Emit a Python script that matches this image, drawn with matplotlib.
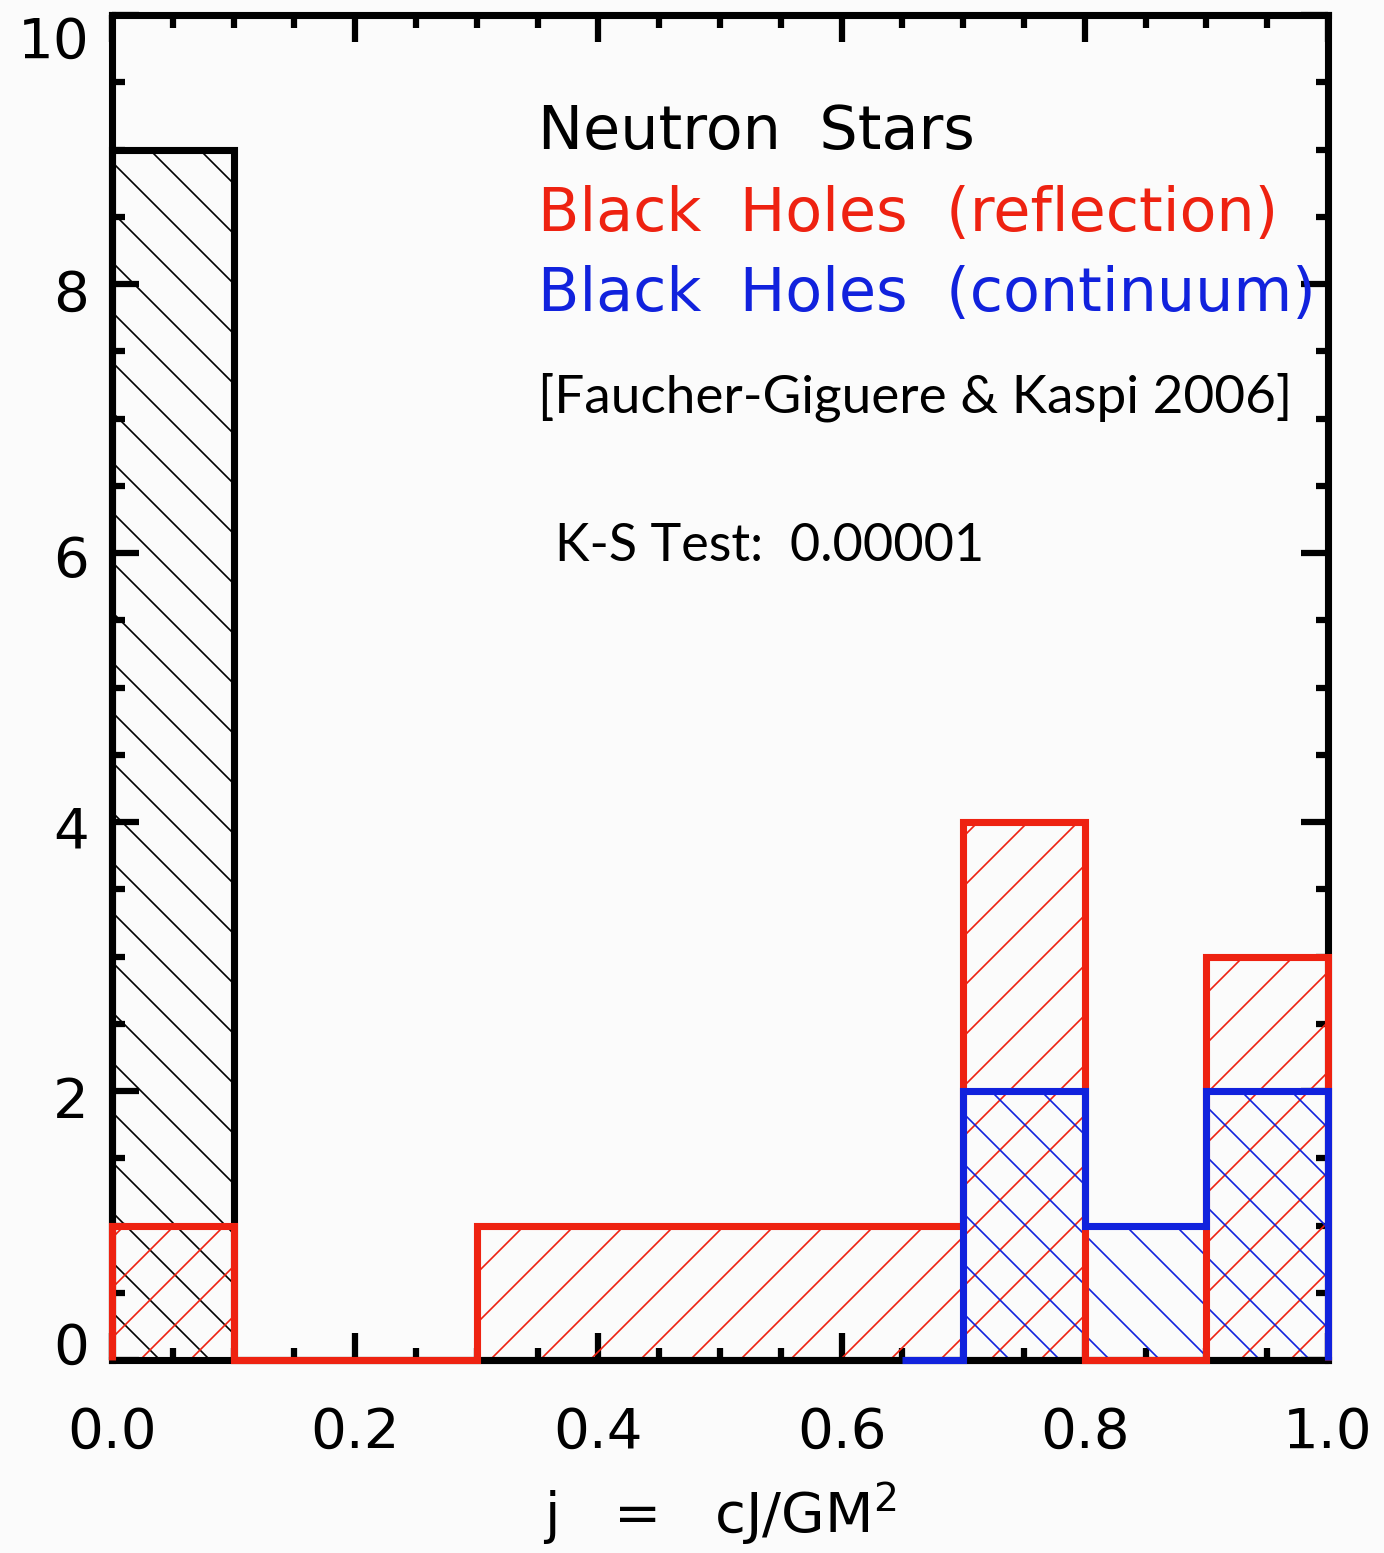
import numpy as np
import matplotlib
matplotlib.use("Agg")
from matplotlib import pyplot as plt
from matplotlib.ticker import MultipleLocator
from matplotlib.transforms import ScaledTranslation

# histogram counts in spin parameter bins
bin_edges = [0.0, 0.1, 0.2, 0.3, 0.4, 0.5, 0.6, 0.7, 0.8, 0.9, 1.0]
ns_counts = [9, 0, 0, 0, 0, 0, 0, 0, 0, 0]  # neutron stars
bh_refl_counts = [1, 0, 0, 1, 1, 1, 1, 4, 0, 3]  # black holes, reflection
bh_cont_edges = [0.65, 0.7, 0.8, 0.9, 1.0]
bh_cont_counts = [0, 2, 1, 2]  # black holes, continuum

labels = ["Neutron  Stars", "Black  Holes  (reflection)", "Black  Holes  (continuum)"]
colors = ["black", "#ee2211", "#1122dd"]
x_ticks = [0.0, 0.2, 0.4, 0.6, 0.8, 1.0]
y_ticks = [0, 2, 4, 6, 8, 10]

plt.rcParams['font.family'] = ['DejaVu Sans']
plt.rcParams['hatch.linewidth'] = 0.8

DPI = 150
fig = plt.figure(figsize=(1384 / DPI, 1553 / DPI), dpi=DPI, facecolor="#fbfbfb")
ax = fig.add_axes([112 / 1384, 1 - 1360 / 1553, (1328 - 112) / 1384, (1360 - 15) / 1553])
ax.set_facecolor("#fbfbfb")

def hist(edges, counts, color, hatch):
    edges = np.array(edges)
    counts = np.array(counts)
    # hatched fill first, then the step outline on top
    ax.bar(edges[:-1], counts, width=np.diff(edges), align="edge", fill=False,
           hatch=hatch, edgecolor=color, linewidth=0, zorder=2)
    ax.stairs(counts, edges, baseline=0, color=color, linewidth=3.4, zorder=4,
              clip_on=False)

hist(bin_edges, ns_counts, colors[0], "\\")
hist(bin_edges, bh_refl_counts, colors[1], "/")
hist(bh_cont_edges, bh_cont_counts, colors[2], "\\")

ax.set_xlim(0, 1.0)
ax.set_ylim(0, 10)
ax.set_xticks(x_ticks)
ax.set_xticklabels(["%.1f" % t for t in x_ticks])
ax.set_yticks(y_ticks)
ax.xaxis.set_minor_locator(MultipleLocator(0.05))
ax.yaxis.set_minor_locator(MultipleLocator(0.5))
ax.tick_params(which="both", direction="in", top=True, right=True, width=3, colors="black")
ax.tick_params(which="major", length=13, labelsize=27)
ax.tick_params(which="minor", length=6)
ax.tick_params(axis="x", which="major", pad=22)
ax.tick_params(axis="y", which="major", pad=11)
for s in ax.spines.values():
    s.set_linewidth(3.4)
    s.set_zorder(3)

# y labels sit a little off their ticks; end labels kept inside the axis range
y_shift_px = [17, -6, -4, -3, -6, -22]
for lab, dy in zip(ax.get_yticklabels(), y_shift_px):
    lab.set_transform(lab.get_transform() + ScaledTranslation(0, dy / DPI, fig.dpi_scale_trans))

ax.set_xlabel("j   =   cJ/GM$^2$", fontsize=27, labelpad=10)

# legend as coloured text lines
for lab, c, y in zip(labels, colors, [9.13, 8.52, 7.92]):
    ax.text(0.35, y, lab, color=c, fontsize=29, va="center", ha="left", zorder=5)

ax.text(0.35, 7.16, "[Faucher-Giguere & Kaspi 2006]", fontsize=25.5, family="Lato",
        va="center", ha="left", zorder=5)
ax.text(0.364, 6.045, "K-S Test:  0.00001", fontsize=25, family="Lato",
        va="center", ha="left", zorder=5)

fig.savefig("out.png", dpi=DPI, facecolor=fig.get_facecolor())
